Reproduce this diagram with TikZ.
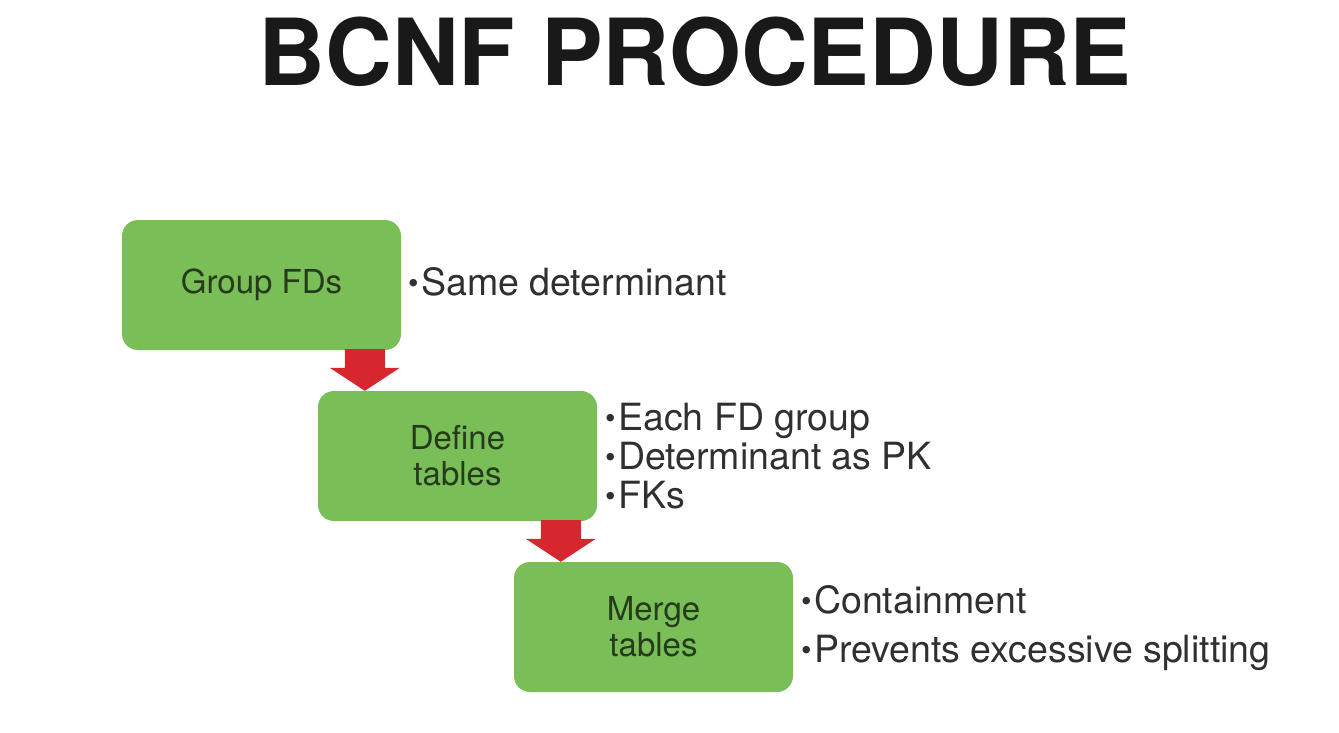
\documentclass[tikz,border=0pt]{standalone}
\usepackage{fontspec}
\setmainfont{TeX Gyre Heros}
\usetikzlibrary{calc}
\definecolor{boxgreen}{RGB}{121,190,86}
\definecolor{arrred}{RGB}{214,39,46}
\definecolor{boxtext}{RGB}{38,58,28}
\definecolor{bultext}{RGB}{48,48,48}
\definecolor{titletext}{RGB}{25,25,25}
\newcommand{\bulmark}{{\fontsize{30}{30}\selectfont\raisebox{1.5pt}{•}}\kern2.5pt}
\tikzset{
  stepbox/.style={rectangle, rounded corners=16pt, fill=boxgreen, minimum width=279pt,
    minimum height=130pt, inner sep=0pt, align=center, text=boxtext,
    font=\fontsize{33}{36}\selectfont},
  bultxt/.style={anchor=base west, inner sep=0pt, text=bultext, font=\fontsize{37.5}{37.5}\selectfont},
  titlestyle/.style={anchor=base, inner sep=0pt, text=titletext, font=\fontsize{92.5}{92.5}\selectfont\bfseries},
  downarrow/.style={fill=arrred}
}
\begin{document}
\begin{tikzpicture}[x=1pt, y=-1pt]
\useasboundingbox[fill=white] (0,0) rectangle (1339,733);
\node[titlestyle] (title) at (695,86) {BCNF PROCEDURE};

\node[stepbox] (b1) at (261.5,285) {Group FDs};
\node[stepbox] (b2) at (457.5,456) {Define\\tables};
\node[stepbox] (b3) at (653.5,627) {Merge\\tables};

% arrow 1
\coordinate (t1) at ($(b2.north west)+(47,0)$);
\coordinate (f1) at (b1.south -| t1);
\fill[downarrow] ($(f1)+(-20,-1)$) -- ($(f1)+(20,-1)$) -- ($(t1)+(20,-23)$) -- ($(t1)+(35,-23)$)
  -- (t1) -- ($(t1)+(-35,-23)$) -- ($(t1)+(-20,-23)$) -- cycle;
% arrow 2
\coordinate (t2) at ($(b3.north west)+(47,0)$);
\coordinate (f2) at (b2.south -| t2);
\fill[downarrow] ($(f2)+(-20,-1)$) -- ($(f2)+(20,-1)$) -- ($(t2)+(20,-23)$) -- ($(t2)+(35,-23)$)
  -- (t2) -- ($(t2)+(-35,-23)$) -- ($(t2)+(-20,-23)$) -- cycle;

\node[bultxt] (n1) at (408,295) {\bulmark Same determinant};
\node[bultxt] (n2) at (605,430) {\bulmark Each FD group};
\node[bultxt] (n3) at (605,469) {\bulmark Determinant as PK};
\node[bultxt] (n4) at (605,508) {\bulmark FKs};
\node[bultxt] (n5) at (801,613) {\bulmark Containment};
\node[bultxt] (n6) at (801,662) {\bulmark Prevents excessive splitting};
\end{tikzpicture}
\end{document}
